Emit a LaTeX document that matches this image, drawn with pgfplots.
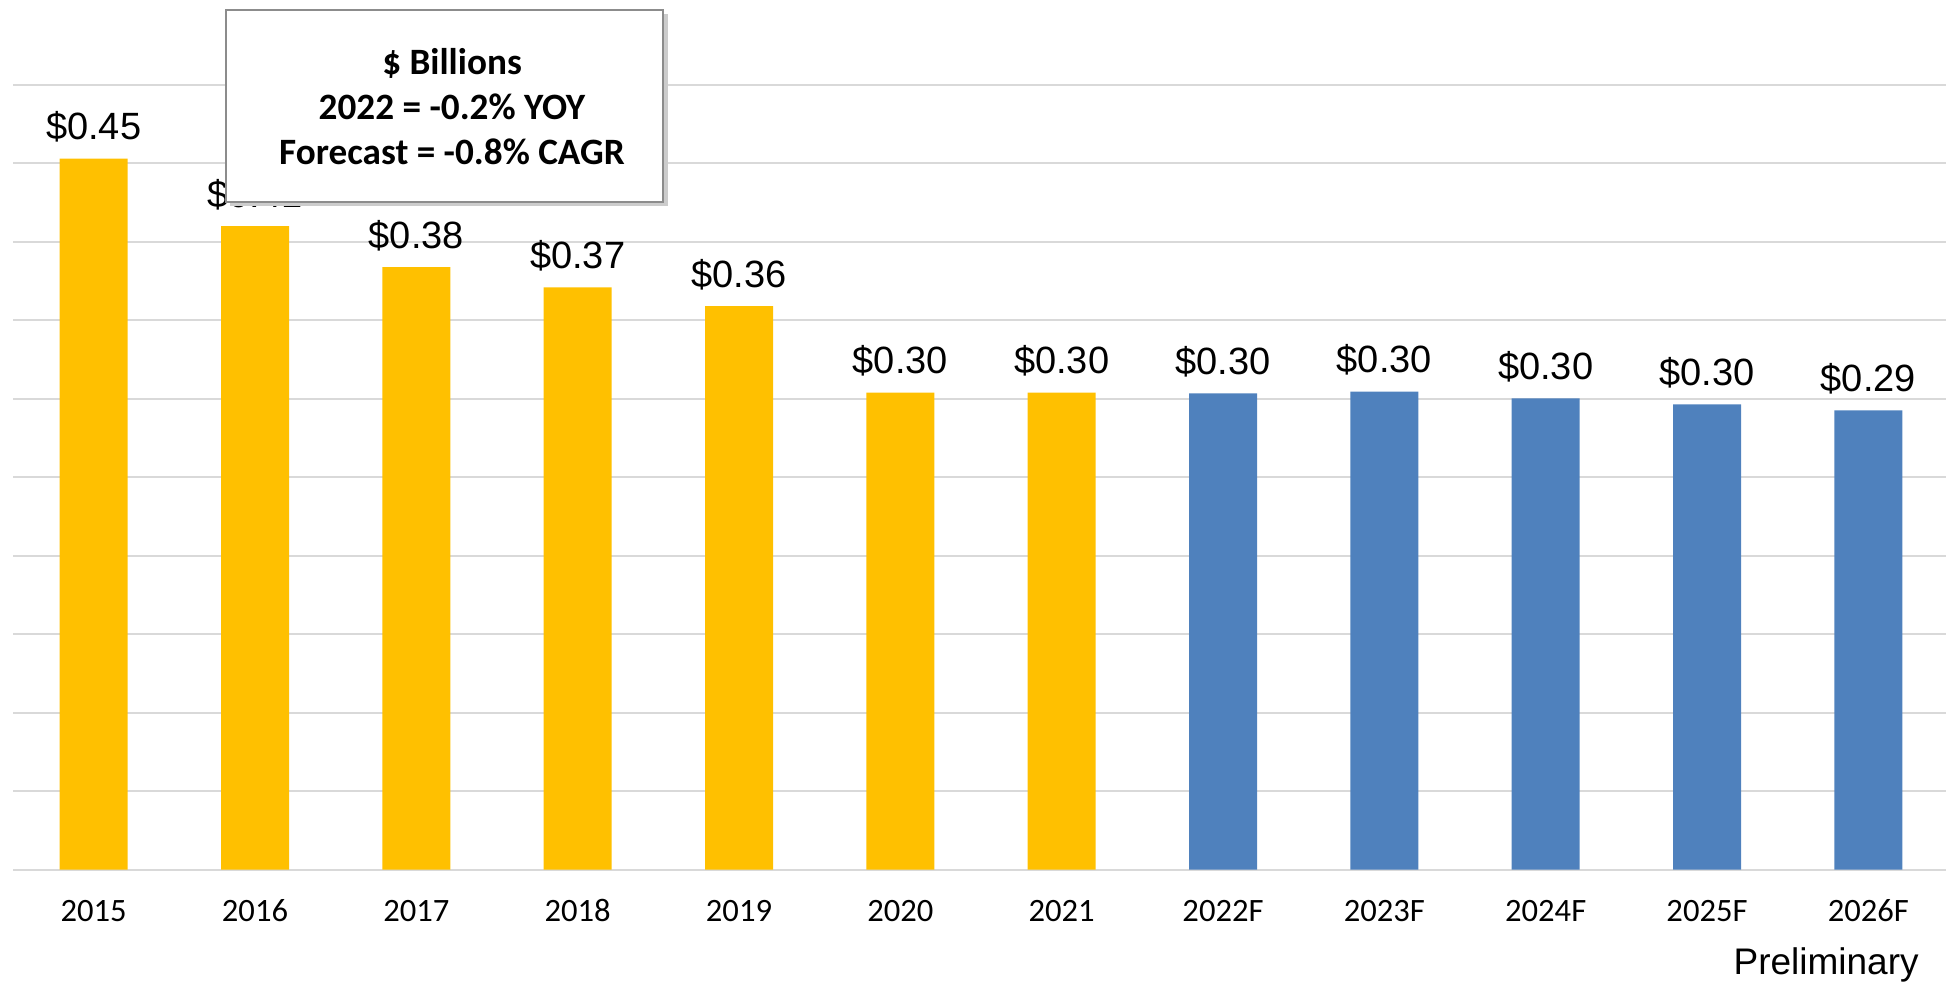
\documentclass[border=0pt]{standalone}
\usepackage{pgfplots}
\pgfplotsset{compat=1.18}
\usepackage{pgfplotstable}
\usepackage{fontspec}
\setmainfont{Carlito}
\newfontfamily\arial{Liberation Sans}
\definecolor{gold}{HTML}{FFC000}
\definecolor{steel}{HTML}{4F81BD}
\definecolor{gridc}{HTML}{D9D9D9}
\definecolor{boxc}{HTML}{8C8C8C}

\pgfplotstableread{
x y lab
0 0.453 0.45
1 0.410 0.41
2 0.384 0.38
3 0.371 0.37
4 0.359 0.36
5 0.304 0.30
6 0.304 0.30
}\actual
\pgfplotstableread{
x y lab
7 0.3035 0.30
8 0.3045 0.30
9 0.3003 0.30
10 0.2964 0.30
11 0.2927 0.29
}\forecast

\begin{document}
\begin{tikzpicture}
\path[use as bounding box] (-6.5pt,-56.25pt) rectangle (966.5pt,434.75pt);
\begin{axis}[
  at={(0,0)}, anchor=south west,
  scale only axis, width=968pt, height=392.25pt,
  xmin=-0.5, xmax=11.5, ymin=0, ymax=0.5,
  axis lines*=left,
  x axis line style={draw=gridc, line width=1pt},
  y axis line style={draw=none},
  ytick={0,0.05,0.1,0.15,0.2,0.25,0.3,0.35,0.4,0.45,0.5},
  yticklabels={},
  ytick style={draw=none},
  xtick style={draw=none},
  ymajorgrids,
  grid style={draw=gridc, line width=1pt},
  xtick={0,1,2,3,4,5,6,7,8,9,10,11},
  xticklabels={2015,2016,2017,2018,2019,2020,2021,2022F,2023F,2024F,2025F,2026F},
  xticklabel style={anchor=base, yshift=-21.5pt, font=\fontsize{16.3}{19}\selectfont},
  ybar, bar width=34pt,
  point meta=explicit symbolic,
  nodes near coords={\$\pgfplotspointmeta},
  every node near coord/.append style={font=\arial\fontsize{19}{22}\selectfont, anchor=base, yshift=9.5pt, inner sep=0pt, text=black},
  clip=false,
]
\addplot[fill=gold, draw=none, bar shift=0pt] table[x=x,y=y,meta=lab]{\actual};
\addplot[fill=steel, draw=none, bar shift=0pt] table[x=x,y=y,meta=lab]{\forecast};
\end{axis}
\fill[black!20] (108.5pt,331.75pt) rectangle (327.5pt,427.75pt);
\draw[boxc, line width=1pt, fill=white] (106.5pt,333.75pt) rectangle (325pt,429.75pt);
\node[font=\bfseries\fontsize{18.6}{22}\selectfont, anchor=base, inner sep=0pt] at (219.5pt,397.5pt) {\$ Billions};
\node[font=\bfseries\fontsize{18.6}{22}\selectfont, anchor=base, inner sep=0pt] at (219.5pt,375pt) {2022 = -0.2\% YOY};
\node[font=\bfseries\fontsize{18.6}{22}\selectfont, anchor=base, inner sep=0pt] at (219.5pt,352.25pt) {Forecast = -0.8\% CAGR};
\node[font=\arial\fontsize{18.5}{21}\selectfont, anchor=base east, inner sep=0pt] at (953pt,-52.25pt) {Preliminary};
\end{tikzpicture}
\end{document}
